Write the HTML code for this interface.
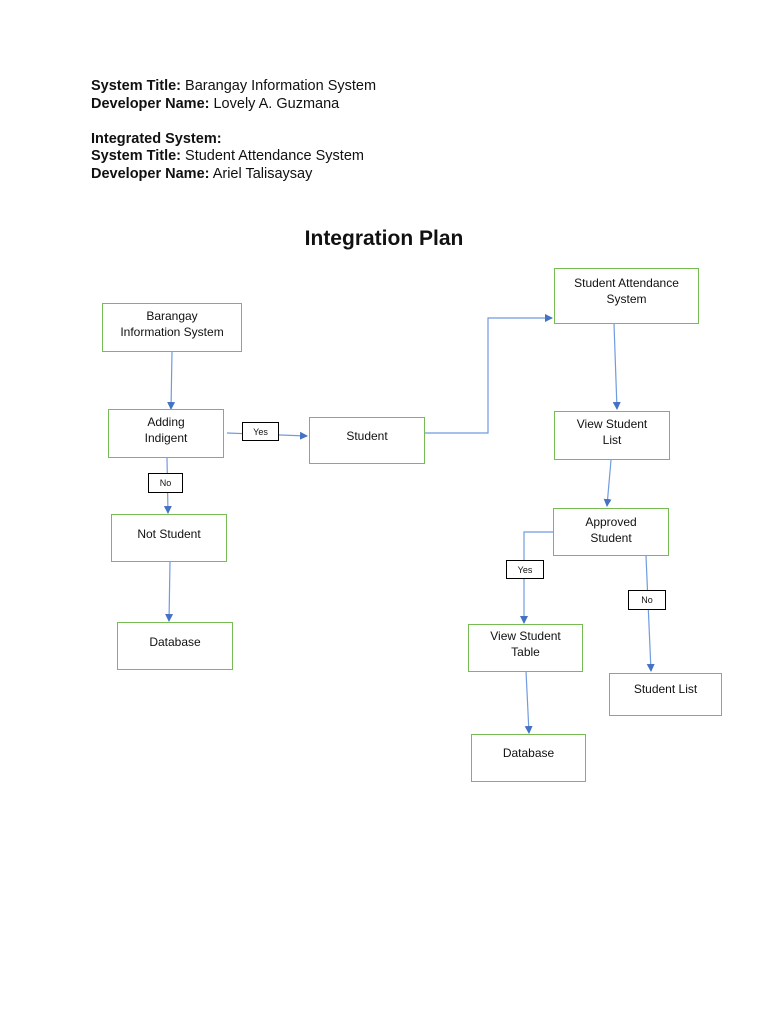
<!DOCTYPE html>
<html><head><meta charset="utf-8"><style>
body{margin:0;width:768px;height:1024px;background:#fff;font-family:"Liberation Sans",sans-serif;color:#111;position:relative;overflow:hidden}
.t{position:absolute;left:91px;font-size:14.5px;line-height:17.5px;top:78px}
b{font-weight:bold}
.box{position:absolute;border:1.5px solid #77bb55;box-sizing:border-box;font-size:12px;text-align:center;line-height:16px;padding-top:4px;background:#fff}
.lab{position:absolute;border:1px solid #000;font-size:9px;text-align:center;background:#fff;box-sizing:border-box;line-height:18px}
</style></head><body>
<div class="t"><b>System Title:</b> Barangay Information System<br><b>Developer Name:</b> Lovely A. Guzmana<br><br><b>Integrated System:</b><br><b>System Title:</b> Student Attendance System<br><b>Developer Name:</b> Ariel Talisaysay</div>
<div style="position:absolute;top:227px;left:0;width:768px;text-align:center;font-size:21px;font-weight:bold">Integration Plan</div>
<svg style="position:absolute;left:0;top:0" width="768" height="1024">
<defs><marker id="a" markerWidth="8" markerHeight="8" refX="7" refY="4" orient="auto" markerUnits="userSpaceOnUse"><path d="M0,0 L8,4 L0,8z" fill="#4472c4"/></marker></defs>
<g stroke="#6f9be0" stroke-width="1.2" fill="none" marker-end="url(#a)">
<line x1="172" y1="352" x2="171" y2="409"/>
<polyline points="227,433 307,436"/>
<line x1="167" y1="458" x2="168" y2="513"/>
<line x1="170" y1="562" x2="169" y2="621"/>
<polyline points="425,433 488,433 488,318 552,318"/>
<line x1="614" y1="324" x2="617" y2="409"/>
<line x1="611" y1="460" x2="607" y2="506"/>
<polyline points="553,532 524,532 524,623"/>
<line x1="646" y1="556" x2="651" y2="671"/>
<line x1="526" y1="671" x2="529" y2="733"/>
</g></svg>
<div class="box" style="left:102px;top:303px;width:140px;height:49px">Barangay<br>Information System</div>
<div class="box" style="left:108px;top:409px;width:116px;height:49px">Adding<br>Indigent</div>
<div class="box" style="left:309px;top:417px;width:116px;height:47px;padding-top:10px">Student</div>
<div class="box" style="left:111px;top:514px;width:116px;height:48px;padding-top:11px">Not Student</div>
<div class="box" style="left:117px;top:622px;width:116px;height:48px;padding-top:11px">Database</div>
<div class="box" style="left:554px;top:268px;width:145px;height:56px;padding-top:6px">Student Attendance<br>System</div>
<div class="box" style="left:554px;top:411px;width:116px;height:49px">View Student<br>List</div>
<div class="box" style="left:553px;top:508px;width:116px;height:48px;padding-top:5px">Approved<br>Student</div>
<div class="box" style="left:468px;top:624px;width:115px;height:48px;padding-top:3px">View Student<br>Table</div>
<div class="box" style="left:609px;top:673px;width:113px;height:43px;padding-top:7px">Student List</div>
<div class="box" style="left:471px;top:734px;width:115px;height:48px;padding-top:10px">Database</div>
<div class="lab" style="left:242px;top:422px;width:37px;height:19px">Yes</div>
<div class="lab" style="left:148px;top:473px;width:35px;height:20px">No</div>
<div class="lab" style="left:506px;top:560px;width:38px;height:19px">Yes</div>
<div class="lab" style="left:628px;top:590px;width:38px;height:20px">No</div>
</body></html>
